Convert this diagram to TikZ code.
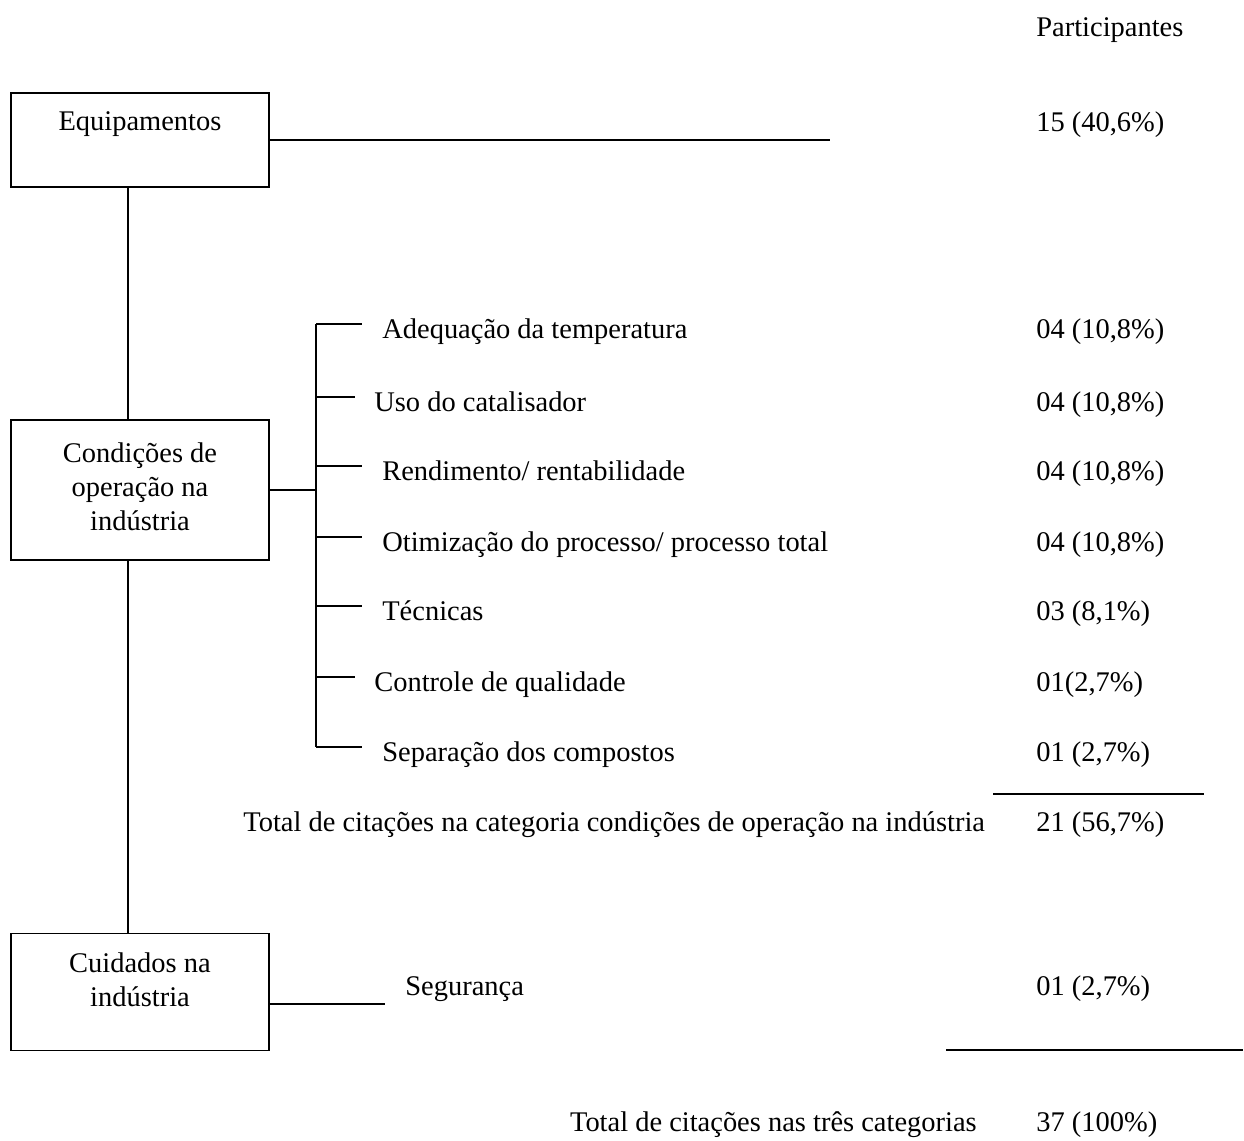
\documentclass[tikz,border=0pt]{standalone}
\usepackage{fontspec}
\setmainfont{Liberation Serif}
\usetikzlibrary{positioning}

\begin{document}
\begin{tikzpicture}[x=0.02cm, y=-0.02cm,
  font=\fontsize{16.2}{19.4}\selectfont,
  box/.style={draw, line width=1pt, minimum width=5.16cm, inner sep=0pt},
  txt/.style={anchor=base west, inner sep=0pt},
  link/.style={line width=1pt}]

\useasboundingbox (0,0) rectangle (1244,1140);

% ---- Category boxes ----
\node[box, minimum height=1.88cm] (eq)   at (140,140) {};
\node[box, minimum height=2.8cm]  (cond) at (140,490) {};
\node[box, minimum height=2.34cm] (care) at (140,992) {};

\node[anchor=base, inner sep=0pt] (eqtxt) at (140,130) {Equipamentos};
\node[align=center, inner sep=0pt] (condtxt) at (140,487)
  {Condições de\\operação na\\indústria};
\node[align=center, inner sep=0pt] (caretxt) at (140,980)
  {Cuidados na\\indústria};

% Spine between the boxes
\coordinate (spine) at (128,0);
\draw[link] (eq.south -| spine) -- (cond.north -| spine);
\draw[link] (cond.south -| spine) -- (care.north -| spine);

% ---- Equipamentos ----
\coordinate (eqend) at (830,140);
\draw[link] (eq.east) -- (eqend);
\node[txt] (head)  at (1036,36)  {Participantes};
\node[txt] (eqnum) at (1036,131) {15 (40,6\%)};

% ---- Condicoes de operacao: bracket with items ----
\coordinate (brtop) at (316,324);
\coordinate (brbot) at (316,747);
\draw[link] (cond.east) -- (cond.east -| brtop);
\draw[link] (brtop) -- (brbot);

\foreach \y/\tick/\tx/\lab/\num [count=\i] in {
    324/362/382/{Adequação da temperatura}/{04 (10,8\%)},
    397/355/374/{Uso do catalisador}/{04 (10,8\%)},
    466/362/382/{Rendimento/ rentabilidade}/{04 (10,8\%)},
    537/362/382/{Otimização do processo/ processo total}/{04 (10,8\%)},
    606/362/382/{Técnicas}/{03 (8,1\%)},
    677/355/374/{Controle de qualidade}/{01(2,7\%)},
    747/362/382/{Separação dos compostos}/{01 (2,7\%)}}{
  \coordinate (tk\i) at (\tick,\y);
  \draw[link] (tk\i -| brtop) -- (tk\i);
  \node[txt] (item\i) at (\tx,\y+14) {\lab};
  \node[txt] (num\i)  at (1036,\y+14) {\num};
}

% Subtotal
\coordinate (subA) at (993,794);
\coordinate (subB) at (1204,794);
\draw[link] (subA) -- (subB);
\node[txt] (subtxt) at (243,831)
  {Total de citações na categoria condições de operação na indústria};
\node[txt] (subnum) at (1036,831) {21 (56,7\%)};

% ---- Cuidados ----
\coordinate (segend) at (385,1004);
\draw[link] (care.east |- segend) -- (segend);
\node[txt] (seg)    at (405,995)  {Segurança};
\node[txt] (segnum) at (1036,995) {01 (2,7\%)};

% Grand total
\coordinate (totA) at (946,1050);
\coordinate (totB) at (1243,1050);
\draw[link] (totA) -- (totB);
\node[anchor=base east, inner sep=0pt] (tottxt) at (977,1131)
  {Total de citações nas três categorias};
\node[txt] (totnum) at (1036,1131) {37 (100\%)};

\end{tikzpicture}
\end{document}
